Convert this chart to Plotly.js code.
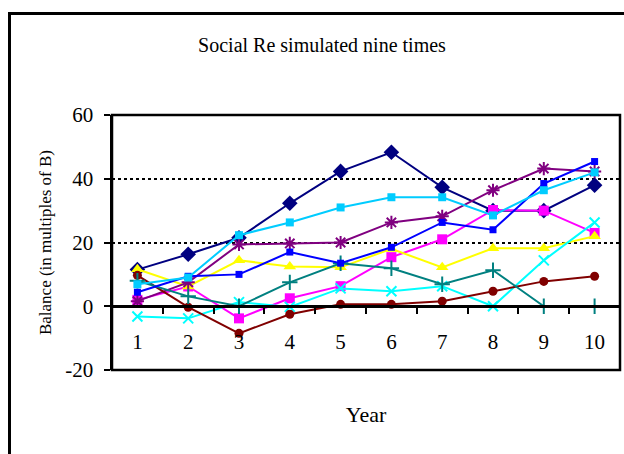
<!DOCTYPE html>
<html>
<head>
<meta charset="utf-8">
<script src="https://cdn.plot.ly/plotly-3.0.1.min.js"></script>
<style>
  html, body { margin: 0; padding: 0; background: #fff; overflow: hidden; }
  #wrap { position: relative; width: 624px; height: 454px; overflow: hidden; }
  #chart { position: absolute; left: 0; top: 0; width: 624px; height: 454px; }
  #frame { position: absolute; left: 8px; top: 12px; width: 700px; height: 600px;
           border: 3px solid #000; pointer-events: none; box-sizing: border-box; }
</style>
</head>
<body>
<div id="wrap">
  <div id="chart"></div>
  <div id="frame"></div>
</div>
<script>
const years = ['1', '2', '3', '4', '5', '6', '7', '8', '9', '10'];
const yTicks = [-20, 0, 20, 40, 60];

const run1 = [11.5, 16.3, 21.5, 32.3, 42.3, 48.3, 37.3, 30, 30, 38];
const run2 = [2, 6.2, -3.8, 2.5, 6.3, 15.4, 21, 30.2, 30, 23];
const run3 = [11.6, 6.2, 14.4, 12.5, 12.2, 18, 12.2, 18.2, 18.2, 22];
const run4 = [-3.2, -3.8, 1.3, -0.2, 5.6, 4.7, 6.3, 0, 14.4, 26.3];
const run5 = [1.6, 7.5, 19.4, 19.7, 20, 26.3, 28.2, 36.4, 43.2, 42.3];
const run6 = [9.7, -0.3, -8.5, -2.5, 0.6, 0.6, 1.6, 4.7, 7.8, 9.4];
const run7 = [8, 3.1, 0, 7.5, 13.5, 11.9, 6.9, 11.3, 0, 0];
const run8 = [4.4, 9.4, 10, 17, 13.5, 18.5, 26.3, 24, 38.5, 45.4];
const run9 = [6.9, 9, 22.3, 26.3, 31, 34.2, 34.2, 28.5, 36.4, 42];

const seriesDefs = [
  { y: run1, color: '#000080', symbol: 'diamond', size: 12, open: false },
  { y: run2, color: '#FF00FF', symbol: 'square', size: 10, open: false },
  { y: run3, color: '#FFFF00', symbol: 'triangle-up', size: 11, open: false },
  { y: run4, color: '#00FFFF', symbol: 'x-thin-open', size: 10, open: true },
  { y: run5, color: '#800080', symbol: 'asterisk-open', size: 11, open: true },
  { y: run6, color: '#800000', symbol: 'circle', size: 9, open: false },
  { y: run7, color: '#008080', symbol: 'cross-thin-open', size: 11, open: true },
  { y: run8, color: '#0000FF', symbol: 'square', size: 7, open: false },
  { y: run9, color: '#00CCFF', symbol: 'square', size: 8, open: false }
];

const traces = seriesDefs.map((s, i) => ({
  type: 'scatter',
  mode: 'lines+markers',
  name: 'Run ' + (i + 1),
  x: years,
  y: s.y,
  line: { color: s.color, width: 2 },
  marker: {
    symbol: s.symbol,
    size: s.size,
    color: s.color,
    line: { color: s.color, width: s.open ? 2 : 0 }
  },
  cliponaxis: false
}));

const serif = 'Liberation Serif, Times New Roman, serif';

const layout = {
  width: 624,
  height: 454,
  margin: { l: 112, r: 4, t: 115, b: 84 },
  paper_bgcolor: '#fff',
  plot_bgcolor: '#fff',
  showlegend: false,
  font: { family: serif, color: '#000' },
  title: {
    text: 'Social Re simulated nine times',
    font: { family: serif, size: 20, color: '#000' },
    xref: 'container', x: 0.516, xanchor: 'center',
    yref: 'container', y: 0.9, yanchor: 'middle'
  },
  xaxis: {
    type: 'category',
    range: [-0.5, 9.5],
    anchor: 'free',
    position: 0.25,
    showline: true,
    linecolor: '#000',
    linewidth: 2.5,
    ticks: 'outside',
    tickson: 'boundaries',
    ticklen: 6,
    tickwidth: 2,
    tickcolor: '#000',
    showgrid: false,
    zeroline: false,
    ticklabelstandoff: 16,
    tickfont: { family: serif, size: 21, color: '#000' },
    title: { text: 'Year', font: { family: serif, size: 22, color: '#000' }, standoff: 53 },
    fixedrange: true
  },
  yaxis: {
    range: [-20, 60],
    tickvals: yTicks,
    ticktext: yTicks.map(String),
    showline: true,
    linecolor: '#000',
    linewidth: 2.5,
    ticks: 'outside',
    ticklen: 6,
    tickwidth: 2,
    tickcolor: '#000',
    showgrid: true,
    gridcolor: '#000',
    gridwidth: 2,
    griddash: 'dot',
    zeroline: false,
    ticklabelstandoff: 6,
    tickfont: { family: serif, size: 21, color: '#000' },
    title: { text: 'Balance (in multiples of B)', font: { family: serif, size: 17, color: '#000' }, standoff: 10 },
    fixedrange: true
  },
  shapes: [
    { type: 'rect', xref: 'paper', yref: 'paper', x0: 0, x1: 1, y0: 0, y1: 1,
      line: { color: '#000', width: 2.5 }, fillcolor: 'rgba(0,0,0,0)', layer: 'above' }
  ]
};

Plotly.newPlot('chart', traces, layout, { staticPlot: true, displayModeBar: false });
</script>
</body>
</html>
